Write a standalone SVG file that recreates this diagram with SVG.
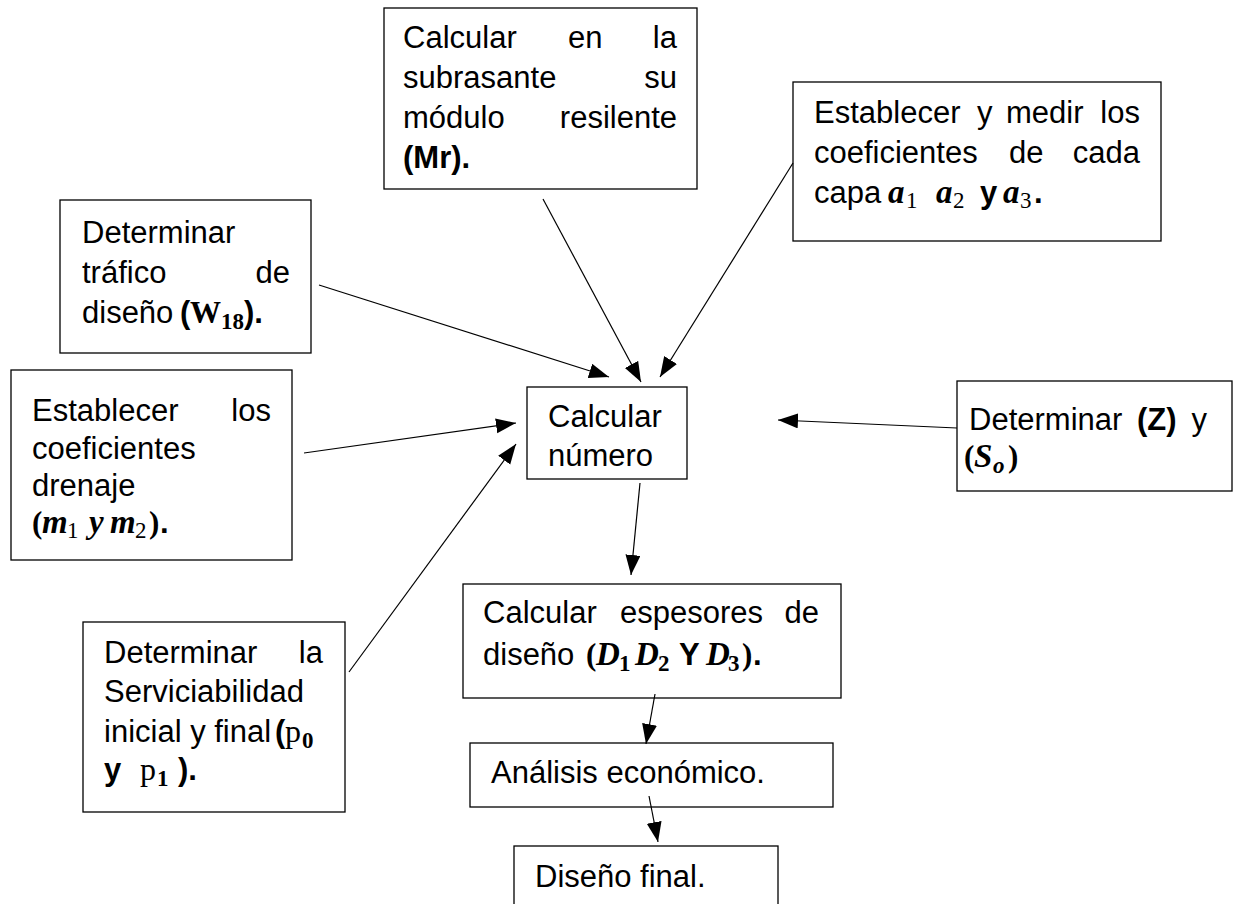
<svg xmlns="http://www.w3.org/2000/svg" width="1240" height="904" viewBox="0 0 1240 904">
<defs>
<style>
.box{fill:#fff;stroke:#000;stroke-width:1.3}
.t{font-family:"Liberation Sans",Arial,sans-serif;font-size:31px;fill:#000}
.e{text-anchor:end}
.b{font-weight:bold}
.m{font-family:"Liberation Serif","Times New Roman",serif;font-weight:bold;font-style:italic;font-size:33px}
.s{font-family:"Liberation Serif","Times New Roman",serif;font-size:23px;font-weight:normal;font-style:normal}
.sb{font-family:"Liberation Serif","Times New Roman",serif;font-size:23px;font-weight:bold}
.p{font-family:"Liberation Serif","Times New Roman",serif;font-weight:bold;font-size:31px}
.pn{font-family:"Liberation Serif","Times New Roman",serif;font-weight:normal;font-size:32px}
.conn line{stroke:#000;stroke-width:1.2;marker-end:url(#ah)}
</style>
<marker id="ah" markerUnits="userSpaceOnUse" markerWidth="22" markerHeight="16" refX="20" refY="7.5" orient="auto">
<path d="M0,0 L20,7.5 L0,15 z" fill="#000"/>
</marker>
</defs>
<rect width="1240" height="904" fill="#fff"/>

<g id="n-mr">
<rect class="box" x="384" y="8" width="313" height="181"/>
<text class="t" x="403" y="48">Calcular</text>
<text class="t" x="568" y="48">en</text>
<text class="t e" x="677" y="48">la</text>
<text class="t" x="403" y="88">subrasante</text>
<text class="t e" x="677" y="88">su</text>
<text class="t" x="403" y="128">módulo</text>
<text class="t e" x="677" y="128">resilente</text>
<text class="t b" x="403" y="168">(Mr).</text>
</g>

<g id="n-coef-capa">
<rect class="box" x="793" y="82" width="368" height="159"/>
<text class="t" x="814" y="123">Establecer</text>
<text class="t" x="977" y="123">y</text>
<text class="t" x="1006" y="123">medir</text>
<text class="t e" x="1140" y="123">los</text>
<text class="t" x="814" y="163">coeficientes</text>
<text class="t" x="1009" y="163">de</text>
<text class="t e" x="1140" y="163">cada</text>
<text class="t" y="203"><tspan x="814">capa</tspan><tspan class="m" x="888">a</tspan><tspan class="s" x="906" y="208">1</tspan><tspan class="m" x="936" y="203">a</tspan><tspan class="s" x="953" y="208">2</tspan><tspan class="b" x="980" y="203">y</tspan><tspan class="m" x="1003" y="203">a</tspan><tspan class="s" x="1020" y="208">3</tspan><tspan class="b" x="1034" y="203">.</tspan></text>
</g>

<g id="n-trafico">
<rect class="box" x="60" y="200" width="251" height="153"/>
<text class="t" x="82" y="243">Determinar</text>
<text class="t" x="82" y="283">tráfico</text>
<text class="t e" x="290" y="283">de</text>
<text class="t" y="323"><tspan x="82">diseño</tspan><tspan class="b" x="180">(</tspan><tspan class="p" x="190">W</tspan><tspan class="sb" x="221" y="329">18</tspan><tspan class="b" x="244" y="323">).</tspan></text>
</g>

<g id="n-drenaje">
<rect class="box" x="11" y="370" width="281" height="190"/>
<text class="t" x="32" y="421">Establecer</text>
<text class="t e" x="271" y="421">los</text>
<text class="t" x="32" y="459">coeficientes</text>
<text class="t" x="32" y="496">drenaje</text>
<text class="t" y="533"><tspan class="p" x="32">(</tspan><tspan class="m" x="42">m</tspan><tspan class="s" x="67" y="538">1</tspan><tspan class="m" x="89" y="533">y</tspan><tspan class="m" x="110">m</tspan><tspan class="s" x="135" y="538">2</tspan><tspan class="p" x="149" y="533">)</tspan><tspan class="b" x="160">.</tspan></text>
</g>

<g id="n-calcular-numero">
<rect class="box" x="527" y="387" width="160" height="92"/>
<text class="t" x="548" y="427">Calcular</text>
<text class="t" x="548" y="466">número</text>
</g>

<g id="n-z-so">
<rect class="box" x="957" y="381" width="275" height="110"/>
<text class="t" x="969" y="430">Determinar</text>
<text class="t b" x="1137" y="430">(Z)</text>
<text class="t e" x="1207" y="430">y</text>
<text class="t" y="467"><tspan class="p" x="964">(</tspan><tspan class="m" x="974">S</tspan><tspan class="sb" x="993" y="473" font-style="italic">o</tspan><tspan class="p" x="1008" y="467">)</tspan></text>
</g>

<g id="n-servic">
<rect class="box" x="83" y="622" width="262" height="190"/>
<text class="t" x="104" y="663">Determinar</text>
<text class="t e" x="323" y="663">la</text>
<text class="t" x="104" y="702">Serviciabilidad</text>
<text class="t" y="742"><tspan x="104">inicial y final</tspan><tspan class="b" x="275">(</tspan><tspan class="pn" x="285">p</tspan><tspan class="sb" x="302" y="748">0</tspan></text>
<text class="t" y="780"><tspan class="b" x="104">y</tspan><tspan class="pn" x="140">p</tspan><tspan class="sb" x="157" y="786">1</tspan><tspan class="b" x="178" y="780">).</tspan></text>
</g>

<g id="n-espesores">
<rect class="box" x="463" y="584" width="378" height="114"/>
<text class="t" x="483" y="623">Calcular</text>
<text class="t" x="620" y="623">espesores</text>
<text class="t e" x="819" y="623">de</text>
<text class="t" y="665"><tspan x="483">diseño</tspan><tspan class="p" x="586">(</tspan><tspan class="m" x="596">D</tspan><tspan class="sb" x="619" y="671">1</tspan><tspan class="m" x="635" y="665">D</tspan><tspan class="sb" x="658" y="671">2</tspan><tspan class="b" x="679" y="665">Y</tspan><tspan class="m" x="706">D</tspan><tspan class="sb" x="728" y="671">3</tspan><tspan class="p" x="742" y="665">)</tspan><tspan class="b" x="753">.</tspan></text>
</g>

<g id="n-analisis">
<rect class="box" x="470" y="743" width="363" height="64"/>
<text class="t" x="491" y="783">Análisis económico.</text>
</g>

<g id="n-final">
<rect class="box" x="514" y="846" width="264" height="80"/>
<text class="t" x="535" y="887">Diseño final.</text>
</g>

<g id="connectors" class="conn">
<line x1="319" y1="285" x2="609" y2="377"/>
<line x1="543" y1="199" x2="641" y2="382"/>
<line x1="793" y1="163" x2="660" y2="377"/>
<line x1="304" y1="453" x2="516" y2="423"/>
<line x1="349" y1="672" x2="516" y2="444"/>
<line x1="957" y1="428" x2="778" y2="420"/>
<line x1="640" y1="483" x2="631" y2="575"/>
<line x1="655" y1="694" x2="646" y2="744"/>
<line x1="649" y1="796" x2="658" y2="842"/>
</g>
</svg>
